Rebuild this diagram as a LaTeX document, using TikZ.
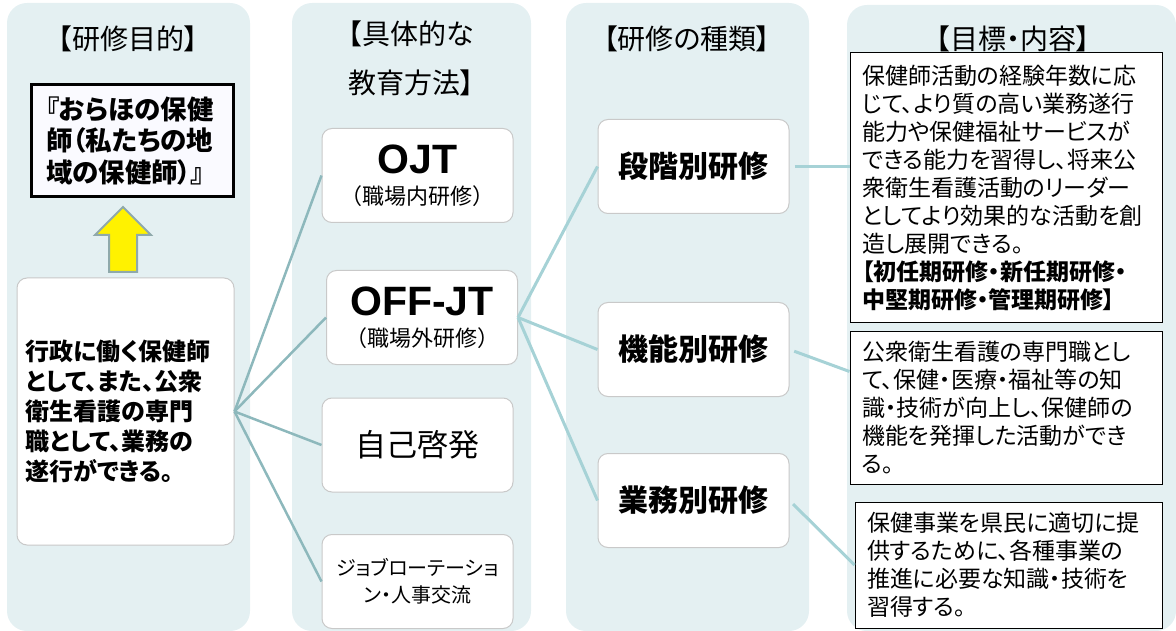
\documentclass[tikz,border=0pt]{standalone}
\usepackage{fontspec}
\setmainfont{Noto Sans CJK JP}[RawFeature=+palt]
\newfontfamily\jpfull{Noto Sans CJK JP}
\newfontfamily\lat{Liberation Sans}
\usetikzlibrary{positioning}
\definecolor{colbg}{HTML}{E4F0F2}
\definecolor{linkA}{HTML}{8DB8BC}
\definecolor{linkB}{HTML}{A6D2D6}
\definecolor{boxline}{HTML}{C9C9C9}
\definecolor{arrline}{HTML}{8FA9AB}
\tikzset{
  colbox/.style={fill=colbg,rounded corners=20pt},
  title/.style={font=\fontsize{28}{49}\selectfont,align=center},
  softbox/.style={draw=boxline,line width=1pt,fill=white,rounded corners=10pt,
    minimum width=191pt,minimum height=94pt,align=center,inner sep=2pt},
  txtbox/.style={draw=black,line width=1pt,fill=white,align=left,
    font=\fontsize{23}{28}\selectfont,inner xsep=12pt,text width=288pt},
  link/.style={line width=2.5pt,draw=linkA},
  linkr/.style={line width=3pt,draw=linkB,shorten <=5pt},
}

\begin{document}
\begin{tikzpicture}[x=1pt,y=-1pt]
  \useasboundingbox (0,0) rectangle (1176,631);
  % columns
  \fill[colbox] (7,3) rectangle (250,631);
  \fill[colbox] (292,3) rectangle (531,631);
  \fill[colbox] (566,3) rectangle (809,631);
  \fill[colbox] (847,5) rectangle (1176,631);
  \node[title] (t1) at (128,39) {【研修目的】};
  \node[title] (t2) at (411,58) {【具体的な\\教育方法】};
  \node[title] (t3) at (687,39) {【研修の種類】};
  \node[title] (t4) at (1013,39) {【目標・内容】};
  % purpose column
  \node[draw,line width=3pt,fill=blue!2,align=left,text width=172pt,inner xsep=15pt,
    minimum height=112pt,font=\bfseries\fontsize{26.5}{31.5}\selectfont] (goal) at (132,141)
    {『おらほの保健\\師（私たちの地\\域の保健師）』};
  \node[softbox,minimum width=217pt,minimum height=267pt,align=left,text width=200pt,
    inner xsep=8pt,font=\bfseries\fontsize{24}{30}\selectfont] (purpose) at (125.5,411.5)
    {行政に働く保健師\\として、また、公衆\\衛生看護の専門\\職として、業務の\\遂行ができる。};
  \draw[draw=arrline,fill=yellow,line width=2pt] (109,272) -- (109,235) -- (95,235)
    -- (123,207) -- (151,235) -- (137,235) -- (137,272) -- cycle;
  % methods
  \node[softbox,font=\jpfull\fontsize{22}{31}\selectfont] (ojt) at (417.5,175.5)
    {{\lat\bfseries\fontsize{41}{41}\selectfont OJT}\\（職場内研修）};
  \node[softbox,font=\jpfull\fontsize{22}{31}\selectfont] (offjt) at (422,317.5)
    {{\lat\bfseries\fontsize{41}{41}\selectfont OFF-JT}\\（職場外研修）};
  \node[softbox,font=\fontsize{31}{36}\selectfont] (jiko) at (417.5,445) {自己啓発};
  \node[softbox,font=\fontsize{20}{27}\selectfont] (jobrot) at (417.5,581.5)
    {ジョブローテーショ\\ン・人事交流};
  % kinds
  \node[softbox,font=\bfseries\fontsize{30}{36}\selectfont] (stage) at (693.5,166.5) {段階別研修};
  \node[softbox,font=\bfseries\fontsize{30}{36}\selectfont] (func) at (693.5,349.5) {機能別研修};
  \node[softbox,font=\bfseries\fontsize{30}{36}\selectfont] (task) at (693.5,500.5) {業務別研修};
  % goals and contents
  \node[txtbox,minimum height=269pt] (tgtA) at (1006,187.5)
    {保健師活動の経験年数に応\\じて、より質の高い業務遂行\\能力や保健福祉サービスが\\
     できる能力を習得し、将来公\\衆衛生看護活動のリーダー\\としてより効果的な活動を創\\
     造し展開できる。\\\textbf{【初任期研修・新任期研修・}\\\textbf{中堅期研修・管理期研修】}};
  \node[txtbox,minimum height=153pt] (tgtB) at (1006,407.5)
    {公衆衛生看護の専門職とし\\て、保健・医療・福祉等の知\\識・技術が向上し、保健師の\\
     機能を発揮した活動ができ\\る。};
  \node[txtbox,minimum height=126pt,text width=283pt] (tgtC) at (1008.5,565)
    {保健事業を県民に適切に提\\供するために、各種事業の\\推進に必要な知識・技術を\\習得する。};
  % connectors
  \foreach \m in {ojt,offjt,jiko,jobrot}
    \draw[link] (purpose.east) -- (\m.west);
  \foreach \k in {stage,func,task}
    \draw[linkr,shorten <=0pt] (offjt.east) -- (\k.west);
  \draw[linkr] (stage.east) -- (stage.east -| tgtA.west);
  \draw[linkr] ([yshift=-41pt]tgtB.north west) coordinate (bIn) (func.east) -- (bIn);
  \draw[linkr] (task.east) -- (tgtC.west);
\end{tikzpicture}
\end{document}
